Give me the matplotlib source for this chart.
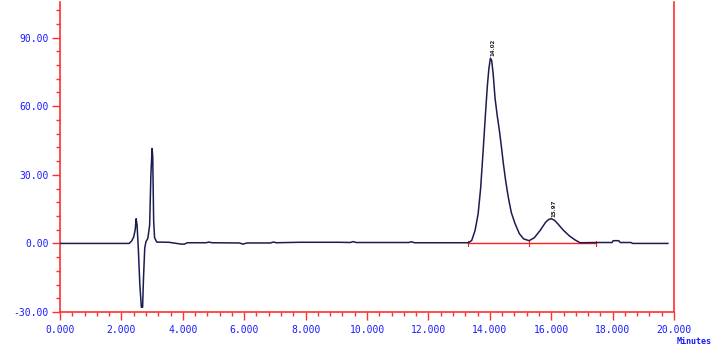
import matplotlib
matplotlib.use("Agg")
import matplotlib.pyplot as plt
from matplotlib.ticker import MultipleLocator, FormatStrFormatter

# chromatogram trace (minutes, signal), in pieces
# solvent front
t_front = [0.0, 2.25, 2.33, 2.40, 2.45, 2.48, 2.51, 2.55, 2.60, 2.65, 2.69,
           2.72, 2.76, 2.80, 2.86, 2.92, 2.96, 3.00, 3.02, 3.05, 3.08, 3.15]
y_front = [0.0, 0.0, 1.0, 2.8, 6.0, 10.8, 8.0, -2.0, -18.0, -27.9, -27.9,
           -15.0, -2.0, 0.8, 2.2, 8.0, 30.0, 41.5, 38.0, 10.0, 2.5, 0.6]
# baseline drift
t_base = [3.55, 3.95, 4.05, 4.15, 4.75, 4.85, 4.95, 5.85, 5.95, 6.10, 6.85,
          6.95, 7.05, 7.80, 9.10, 9.45, 9.55, 9.65, 11.35, 11.45, 11.55, 13.30]
y_base = [0.5, -0.3, -0.3, 0.3, 0.3, 0.6, 0.3, 0.2, -0.3, 0.2, 0.2,
          0.6, 0.3, 0.5, 0.5, 0.4, 0.8, 0.4, 0.4, 0.7, 0.3, 0.3]
# the two analyte peaks
t_peaks = [13.41, 13.52, 13.62, 13.70, 13.78, 13.86, 13.92, 13.97, 14.02,
           14.06, 14.11, 14.17, 14.24, 14.31, 14.38, 14.44, 14.52, 14.60,
           14.70, 14.82, 14.96, 15.10, 15.28, 15.45, 15.64, 15.82, 15.92,
           16.00, 16.10, 16.20, 16.40, 16.60, 16.78, 16.94]
y_peaks = [1.3, 5.7, 13.0, 24.0, 40.0, 57.0, 69.0, 76.5, 81.0,
           80.0, 74.0, 63.5, 56.0, 49.5, 42.0, 35.0, 27.0, 20.3,
           13.5, 8.7, 4.3, 2.0, 1.2, 2.5, 5.7, 9.3, 10.5,
           10.8, 10.2, 8.8, 5.7, 3.2, 1.5, 0.3]
# tail
t_tail = [17.50, 17.98, 18.02, 18.20, 18.25, 18.60, 18.65, 19.80]
y_tail = [0.4, 0.4, 1.2, 1.2, 0.4, 0.4, 0.0, 0.0]

# integration baseline and peak labels
base_t = [13.30, 15.27, 17.47]
peak_t = [14.02, 16.00]
peak_h = [81.0, 10.8]
peak_lbl = ["14.02", "15.97"]

t = t_front + t_base + t_peaks + t_tail
signal = y_front + y_base + y_peaks + y_tail

fig = plt.figure(figsize=(7.11, 3.55), dpi=100)
ax = fig.add_axes([0.0844, 0.121, 0.8636, 0.873])

red = "#ff3030"
blue = "#1a1aff"

ax.plot(t, signal, color="#1c1c50", lw=1.1, zorder=3)
ax.plot([base_t[0], base_t[-1]], [0, 0], color="#ff2020", lw=1.0, zorder=2)
for bt in base_t:
    ax.plot([bt, bt], [-1.2, 1.2], color="#ff2020", lw=0.8, zorder=2)
for px, ph, lb in zip(peak_t, peak_h, peak_lbl):
    ax.text(px + 0.08, ph + 0.8, lb, rotation=90, fontsize=4, color="#222222",
            ha="center", va="bottom", fontweight="bold")

ax.set_xlim(0, 20)
ax.set_ylim(-30, 105.5)
ax.xaxis.set_major_locator(MultipleLocator(2))
ax.xaxis.set_minor_locator(MultipleLocator(0.4))
ax.yaxis.set_major_locator(MultipleLocator(30))
ax.yaxis.set_minor_locator(MultipleLocator(6))
ax.xaxis.set_major_formatter(FormatStrFormatter("%.3f"))
ax.yaxis.set_major_formatter(FormatStrFormatter("%.2f"))

for s in ["left", "bottom", "right"]:
    ax.spines[s].set_color(red)
    ax.spines[s].set_linewidth(1.2)
ax.spines["top"].set_visible(False)

ax.tick_params(which="major", direction="out", length=6, width=1.0,
               color=red, labelcolor=blue, labelsize=7, pad=2)
ax.tick_params(which="minor", direction="out", length=3, width=1.0, color=red)
ax.tick_params(axis="x", pad=3)
for lab in ax.get_xticklabels() + ax.get_yticklabels():
    lab.set_family("DejaVu Sans Mono")

fig.text(0.952, 0.025, "Minutes", color=blue, fontsize=6,
         family="DejaVu Sans Mono", ha="left", va="bottom", fontweight="bold")

plt.savefig("out.png", dpi=100)
plt.close()
